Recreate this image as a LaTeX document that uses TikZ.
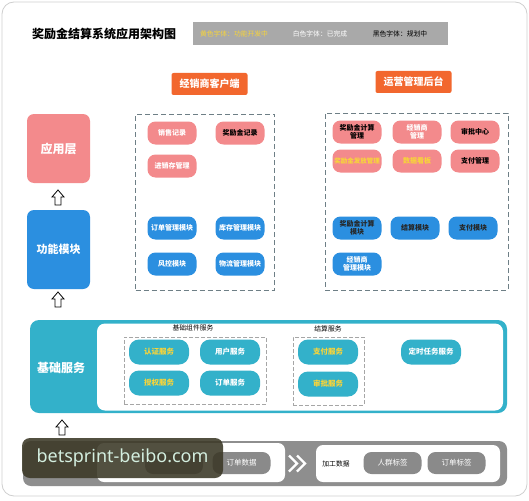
\documentclass[tikz,border=0pt]{standalone}
\usepackage{fontspec}
\setmainfont{Noto Sans CJK SC}
\newfontfamily\wmfont{Noto Sans}
\definecolor{pinkc}{HTML}{F38A8C}
\definecolor{bluec}{HTML}{2B8FE0}
\definecolor{tealc}{HTML}{33B1CA}
\definecolor{orangec}{HTML}{F2672E}
\definecolor{legendc}{HTML}{A9A9A9}
\definecolor{grayband}{HTML}{8E8E8E}
\definecolor{grayp}{HTML}{8A8A8A}
\definecolor{yelc}{HTML}{F7D43A}
\definecolor{dashc}{HTML}{6E7F86}
\definecolor{framec}{HTML}{CFCFCF}
\definecolor{wmbg}{HTML}{3B3826}
\definecolor{wmtx}{HTML}{D3EEDF}
\tikzset{
  pill/.style={rounded corners=8pt, minimum width=49pt, minimum height=23pt, inner sep=1pt, font=\fontsize{7}{8}\selectfont\bfseries, align=center},
  pinkpill/.style={pill, fill=pinkc},
  bluepill/.style={pill, fill=bluec},
  tealpill/.style={pill, fill=tealc, minimum width=60pt, minimum height=25pt, rounded corners=10pt, font=\fontsize{7.5}{8.5}\selectfont\bfseries},
  graypill/.style={pill, fill=grayp, minimum width=58pt, minimum height=22pt, text=white, font=\fontsize{7.5}{8.5}\selectfont},
  header/.style={fill=orangec, text=white, rounded corners=2pt, minimum width=76pt, minimum height=22pt, font=\fontsize{10}{11}\selectfont\bfseries},
  layerbox/.style={rounded corners=7pt, minimum width=63pt, text=white, font=\fontsize{12}{13}\selectfont\bfseries},
  dashbox/.style={draw=dashc, dash pattern=on 5pt off 3pt, line width=0.7pt, inner sep=0pt},
  dashsmall/.style={draw=gray!70, dash pattern=on 4pt off 2pt, line width=0.6pt, inner sep=0pt},
  small/.style={font=\fontsize{6.8}{7.8}\selectfont},
  uparr/.pic={\draw[line width=0.8pt, fill=white, line join=miter] (-6,-1)--(0,-8)--(6,-1)--(3,-1)--(3,7)--(-3,7)--(-3,-1)--cycle;}
}
\begin{document}
\begin{tikzpicture}[x=1pt,y=-1pt]
\useasboundingbox (0,0) rectangle (529,500);
\fill[white] (0,0) rectangle (529,500);
\draw[framec, line width=0.8pt, rounded corners=12pt] (2,2) rectangle (527,496);

% title and legend
\node[font=\fontsize{12}{13}\selectfont\bfseries] (title) at (104,34) {奖励金结算系统应用架构图};
\node[fill=legendc, minimum width=255pt, minimum height=23pt] (legend) at (320.5,33.5) {};
\node[small, text=yelc] (leg1) at (234,34) {黄色字体：功能开发中};
\node[small, text=white] (leg2) at (320,34) {白色字体：已完成};
\node[small, text=black] (leg3) at (400,34) {黑色字体：规划中};

% headers
\node[header] (h1) at (209.5,84) {经销商客户端};
\node[header] (h2) at (413.5,82) {运营管理后台};

% dashed containers
\node[dashbox, minimum width=139pt, minimum height=176pt] (dl) at (205,202) {};
\node[dashbox, minimum width=183pt, minimum height=177pt] (dr) at (416.5,201.5) {};

% left layer boxes
\node[layerbox, fill=pinkc, minimum height=69pt] (app) at (58.5,148.5) {应用层};
\node[layerbox, fill=bluec, minimum height=79pt, font=\fontsize{11}{12}\selectfont\bfseries] (func) at (58.5,249.5) {功能模块};
\pic at (58,198) {uparr};
\pic at (58,300) {uparr};
\pic at (62,428) {uparr};

% dealer client apps
\node[pinkpill, text=white] (a1) at (172,133) {销售记录};
\node[pinkpill, text=black] (a2) at (240,133) {奖励金记录};
\node[pinkpill, text=white] (a3) at (172,166) {进销存管理};
\node[bluepill, text=white] (b1) at (172,228) {订单管理模块};
\node[bluepill, text=white] (b2) at (240,228) {库存管理模块};
\node[bluepill, text=white] (b3) at (172,264) {风控模块};
\node[bluepill, text=white] (b4) at (240,264) {物流管理模块};

% operations backend
\node[pinkpill, text=black] (c1) at (357,132) {奖励金计算\\管理};
\node[pinkpill, text=white] (c2) at (417,132) {经销商\\管理};
\node[pinkpill, text=black] (c3) at (475,132) {审批中心};
\node[pinkpill, text=yelc, font=\fontsize{6.5}{7.5}\selectfont\bfseries] (c4) at (357,161) {奖励金发放管理};
\node[pinkpill, text=yelc] (c5) at (417,161) {数据看板};
\node[pinkpill, text=black] (c6) at (475,161) {支付管理};
\node[bluepill, text=black!85] (d1) at (357,228) {奖励金计算\\模块};
\node[bluepill, text=black!85] (d2) at (415,228) {结算模块};
\node[bluepill, text=black!85] (d3) at (473,228) {支付模块};
\node[bluepill, text=white] (d4) at (357,264) {经销商\\管理模块};

% base services
\node[fill=tealc, rounded corners=9pt, minimum width=477pt, minimum height=93pt] (base) at (268.5,366.5) {};
\node[fill=white, rounded corners=8pt, minimum width=406pt, minimum height=87pt] (baseinner) at (300,367) {};
\node[text=white, font=\fontsize{12}{13}\selectfont\bfseries] (baselbl) at (61,368) {基础服务};
\node[small] (g1lbl) at (193,328) {基础组件服务};
\node[dashsmall, minimum width=142pt, minimum height=67pt] (g1) at (195,370.5) {};
\node[small] (g2lbl) at (328,329) {结算服务};
\node[dashsmall, minimum width=71pt, minimum height=68pt] (g2) at (328.5,371) {};
\node[tealpill, text=yelc] (s1) at (159,352) {认证服务};
\node[tealpill, text=white] (s2) at (230,352) {用户服务};
\node[tealpill, text=yelc] (s3) at (159,383) {授权服务};
\node[tealpill, text=white] (s4) at (230,383) {订单服务};
\node[tealpill, text=yelc] (s5) at (328,352) {支付服务};
\node[tealpill, text=yelc] (s6) at (328,384) {审批服务};
\node[tealpill, text=white] (s7) at (431,352) {定时任务服务};

% data band
\node[fill=grayband, rounded corners=8pt, minimum width=484pt, minimum height=45pt] (band) at (265,463.5) {};
\node[fill=white, rounded corners=7pt, minimum width=188pt, minimum height=39pt] (raw) at (191,462.5) {};
\node[fill=white, rounded corners=7pt, minimum width=184pt, minimum height=37pt] (proc) at (408,463.5) {};
\node[graypill] (r1) at (174,463) {};
\node[graypill] (r2) at (241.5,463) {订单数据};
\node[small] (proclbl) at (336,464) {加工数据};
\node[graypill] (p1) at (392.5,463) {人群标签};
\node[graypill] (p2) at (456.5,463) {订单标签};
\coordinate (ch1) at (297,463.5);
\coordinate (ch2) at (305,463.5);
\draw[white, line width=2.2pt, line join=miter] ([shift={(-8,-8)}]ch1) -- (ch1) -- ([shift={(-8,8)}]ch1);
\draw[white, line width=2.2pt, line join=miter] ([shift={(-8,-8)}]ch2) -- (ch2) -- ([shift={(-8,8)}]ch2);

% watermark
\node[fill=wmbg, fill opacity=0.88, text opacity=1, rounded corners=8pt, minimum width=201pt, minimum height=40pt, text=wmtx, font=\wmfont\fontsize{18}{20}\selectfont] (wm) at (122.5,458) {betsprint-beibo.com};
\end{tikzpicture}
\end{document}
